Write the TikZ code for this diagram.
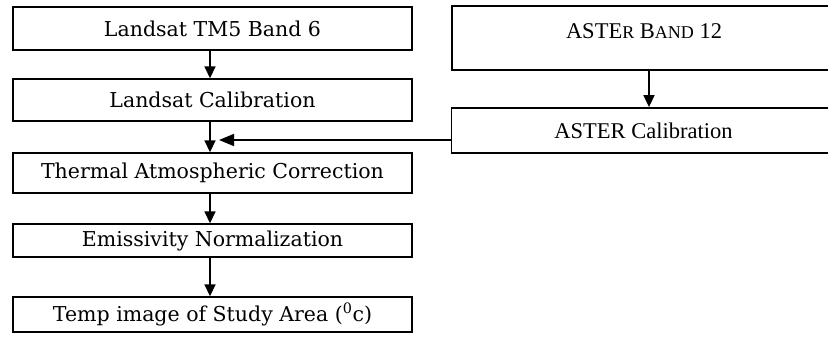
\documentclass[tikz,border=0pt]{standalone}
\usepackage{fontspec}
\setmainfont{Liberation Serif}
\newfontfamily\lfont{DejaVu Serif}
\usetikzlibrary{arrows.meta}
\tikzset{
  lbox/.style={draw, line width=1.4pt, minimum width=399pt, inner sep=0pt, font=\lfont\fontsize{20.5}{24}\selectfont},
  rbox/.style={draw, line width=1.8pt, minimum width=384pt, inner sep=0pt, font=\fontsize{22.5}{26}\selectfont},
  arr/.style={line width=1.6pt, -{Triangle[length=12pt,width=11pt]}},
  harr/.style={line width=1.6pt, -{Triangle[length=15pt,width=12pt]}}
}
\newcommand{\smc}[1]{{\fontsize{18}{20}\selectfont #1}}
\begin{document}
\begin{tikzpicture}[x=1pt,y=-1pt]
\useasboundingbox (0,0) rectangle (828,343);
\fill[white] (0,0) rectangle (828,343);
\node[lbox, minimum height=43pt] (b1) at (212.5,28.5) {Landsat TM5 Band 6};
\node[lbox, minimum height=42pt] (b2) at (212.5,100) {Landsat Calibration};
\node[lbox, minimum height=40pt] (b3) at (212.5,173) {Thermal Atmospheric Correction};
\node[lbox, minimum height=33pt] (b4) at (212.5,240.5) {Emissivity Normalization};
\node[lbox, minimum height=35pt] (b5) at (212.5,314.5) {Temp image of Study Area (\textsuperscript{0}c)};
\node[rbox, text height=32pt, text depth=32pt] (r1) at (644,38) {ASTE\smc{R} B\smc{AND} 12};
\node[rbox, minimum height=45pt] (r2) at (643.5,130.5) {ASTER Calibration};
\coordinate (m) at (219,140);
\draw[arr] ([xshift=-2.5pt]b1.south) -- ([xshift=-2.5pt]b2.north);
\draw[arr] ([xshift=-2.5pt]b2.south) -- ([xshift=-2.5pt]b3.north);
\draw[arr] ([xshift=-2.5pt]b3.south) -- ([xshift=-2.5pt]b4.north);
\draw[arr] ([xshift=-2.5pt]b4.south) -- ([xshift=-2.5pt]b5.north);
\draw[arr] ([xshift=5pt]r1.south) -- ([xshift=5.5pt]r2.north);
\draw[harr] (r2.west |- m) -- (m);
\end{tikzpicture}
\end{document}
